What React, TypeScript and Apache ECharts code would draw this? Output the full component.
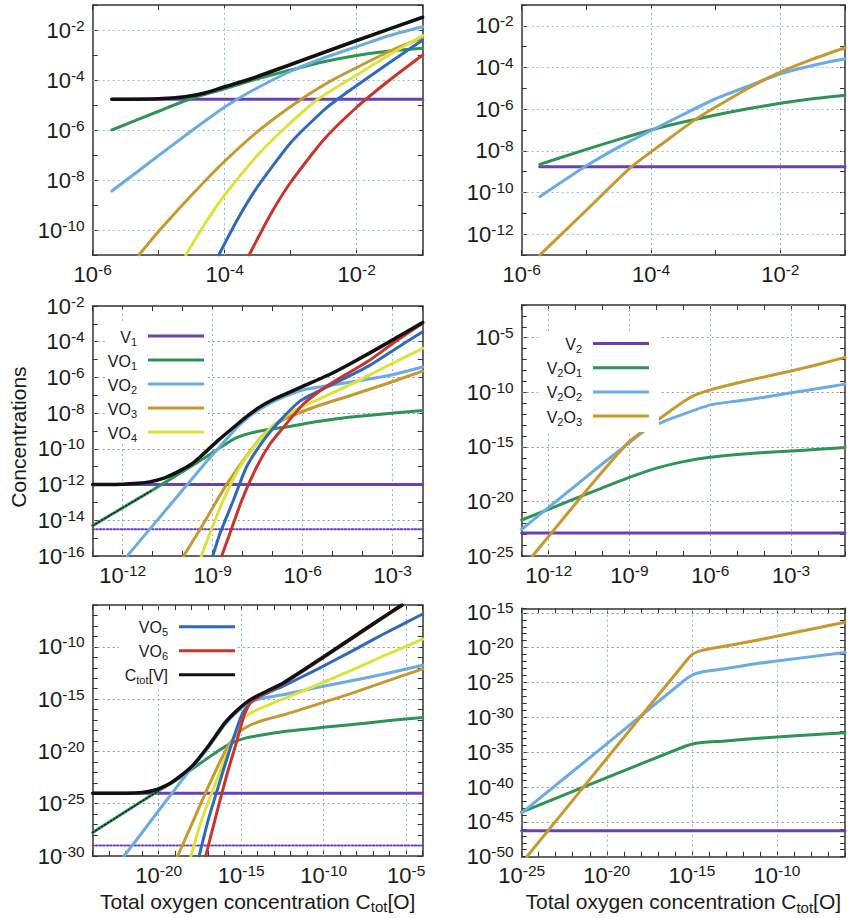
import React, { useEffect, useRef } from 'react';
import * as echarts from 'echarts';

type Pt = [number, number];

const FONT = "'Liberation Sans', Arial, Helvetica, sans-serif";
const INK = '#1a1a1a';
const FRAME = '#333333';
const GRID_V = '#86bcdc';
const GRID_H_LIGHT = '#8fc2dd';
const GRID_H_GRAY = '#8e99a4';

const COL = {
  v: '#6a40b5',
  o1: '#2e9455',
  o2: '#6aabe3',
  o3: '#c8982e',
  o4: '#dde23a',
  o5: '#2d69be',
  o6: '#c9342b',
  tot: '#111111',
};

// All values are log10 exponents: [log10 C_tot[O], log10 concentration]

// ---------- Panel 1 (top left): V1, VO1..VO6, Ctot[V] ----------
const p1V1: Pt[] = [[-5.71, -4.77], [-1, -4.77]];
const p1VO1: Pt[] = [[-5.71, -6.0], [-5.0, -5.25], [-4.54, -4.77], [-4.0, -4.35], [-3.6, -4.02], [-3.0, -3.6], [-2.5, -3.27], [-2.0, -3.02], [-1.5, -2.84], [-1.0, -2.73]];
const p1VO2: Pt[] = [[-5.71, -8.44], [-5.0, -7.02], [-4.5, -6.03], [-4.0, -5.08], [-3.6, -4.45], [-3.0, -3.65], [-2.5, -3.12], [-2.0, -2.67], [-1.5, -2.22], [-1.0, -1.87]];
const p1VO3: Pt[] = [[-5.3, -11], [-5.0, -10.05], [-4.5, -8.6], [-4.0, -7.25], [-3.45, -5.95], [-2.84, -4.77], [-2.4, -4.05], [-2.0, -3.5], [-1.5, -2.85], [-1.0, -2.3]];
const p1VO4: Pt[] = [[-4.59, -11], [-4.3, -9.75], [-4.0, -8.6], [-3.5, -7.0], [-3.1, -5.95], [-2.59, -4.77], [-2.0, -3.8], [-1.5, -2.98], [-1.0, -2.22]];
const p1VO5: Pt[] = [[-4.09, -11], [-3.8, -9.55], [-3.5, -8.26], [-3.0, -6.51], [-2.5, -5.21], [-2.29, -4.77], [-2.0, -4.22], [-1.5, -3.3], [-1.0, -2.4]];
const p1VO6: Pt[] = [[-3.63, -11], [-3.3, -9.35], [-3.0, -8.09], [-2.5, -6.39], [-2.0, -5.09], [-1.5, -4.0], [-1.0, -3.0]];
const p1Tot: Pt[] = [[-5.71, -4.77], [-5.0, -4.75], [-4.6, -4.67], [-4.3, -4.52], [-4.0, -4.27], [-3.6, -3.95], [-3.0, -3.38], [-2.0, -2.42], [-1.0, -1.49]];

// ---------- Panel 2 (top right): V2, V2O1..V2O3 ----------
const p2V2: Pt[] = [[-5.72, -8.76], [-1, -8.76]];
const p2V2O1: Pt[] = [[-5.72, -8.65], [-5.0, -7.93], [-4.5, -7.45], [-4.0, -7.0], [-3.5, -6.62], [-3.0, -6.28], [-2.5, -5.98], [-2.0, -5.72], [-1.5, -5.5], [-1.0, -5.33]];
const p2V2O2: Pt[] = [[-5.72, -10.2], [-5.0, -8.72], [-4.5, -7.82], [-4.0, -7.03], [-3.5, -6.25], [-3.0, -5.5], [-2.5, -4.9], [-2.0, -4.3], [-1.5, -3.9], [-1.0, -3.58]];
const p2V2O3: Pt[] = [[-5.72, -13.0], [-5.0, -10.85], [-4.3, -8.76], [-3.8, -7.6], [-3.34, -6.55], [-3.0, -5.9], [-2.48, -4.97], [-2.0, -4.22], [-1.5, -3.6], [-1.0, -3.05]];

// ---------- Panel 3 (middle left) ----------
const p3V1: Pt[] = [[-13, -12], [-2, -12]];
const p3V1Dot: Pt[] = [[-13, -14.5], [-2, -14.5]];
const p3VO1: Pt[] = [[-13, -14.3], [-12, -13.3], [-11, -12.3], [-10.2, -11.48], [-9.6, -10.85], [-9.2, -10.43], [-8.8, -9.98], [-8.3, -9.45], [-7.8, -9.15], [-7.2, -8.93], [-6.5, -8.76], [-5.5, -8.47], [-4.4, -8.22], [-3.3, -8.05], [-2, -7.85]];
const p3VO2: Pt[] = [[-11.85, -16], [-11, -14.3], [-10, -12.3], [-9.3, -10.9], [-8.8, -9.95], [-8.2, -8.82], [-7.8, -8.22], [-7.4, -7.75], [-7.0, -7.37], [-6.6, -7.07], [-6, -6.7], [-5, -6.42], [-4, -6.15], [-3, -5.85], [-2, -5.42]];
const p3VO3: Pt[] = [[-9.97, -16], [-9.44, -14.56], [-8.88, -12.95], [-8.54, -12.0], [-7.98, -10.64], [-7.3, -9.2], [-6.63, -8.35], [-5.51, -7.6], [-4.38, -7.0], [-3.26, -6.38], [-2, -5.65]];
const p3VO4: Pt[] = [[-9.38, -16], [-9.1, -14.75], [-8.65, -12.88], [-8.09, -11.0], [-7.53, -9.7], [-6.97, -8.67], [-6.29, -7.85], [-5.51, -7.25], [-4.38, -6.38], [-3.26, -5.42], [-2, -4.37]];
const p3VO5: Pt[] = [[-9.0, -16], [-8.76, -14.75], [-8.31, -12.88], [-7.87, -11.0], [-7.3, -9.51], [-6.74, -8.39], [-6.07, -7.3], [-5.17, -6.52], [-3.82, -5.38], [-3, -4.5], [-2, -3.44]];
const p3VO6: Pt[] = [[-8.7, -16], [-8.43, -14.75], [-8.03, -12.88], [-7.53, -11.0], [-7.08, -9.7], [-6.63, -8.77], [-5.96, -7.46], [-5.17, -6.45], [-3.82, -5.1], [-3, -4.1], [-2, -2.97]];
const p3Tot: Pt[] = [[-13, -12], [-12, -11.98], [-11.5, -11.93], [-11.1, -11.85], [-10.6, -11.62], [-10.2, -11.32], [-9.7, -10.85], [-9.3, -10.27], [-8.8, -9.5], [-8.2, -8.65], [-7.8, -8.1], [-7.4, -7.62], [-7.0, -7.25], [-6.6, -6.95], [-6, -6.5], [-5, -5.75], [-4.4, -5.22], [-3.3, -4.19], [-2, -2.92]];

// ---------- Panel 4 (middle right) ----------
const p4V2: Pt[] = [[-13, -22.9], [-1, -22.9]];
const p4V2O1: Pt[] = [[-13, -21.7], [-12, -20.72], [-11, -19.72], [-10, -18.75], [-9, -17.8], [-8, -16.95], [-7, -16.35], [-6, -15.95], [-5, -15.7], [-4, -15.52], [-3, -15.38], [-2, -15.22], [-1, -15.05]];
const p4V2O2: Pt[] = [[-13, -22.55], [-12, -20.55], [-11, -18.55], [-10, -16.55], [-9, -14.6], [-8.4, -13.45], [-7.8, -12.75], [-7, -12.0], [-6, -11.15], [-5, -10.8], [-4, -10.45], [-3, -10.05], [-2, -9.65], [-1, -9.25]];
const p4V2O3: Pt[] = [[-12.6, -25], [-12, -23.2], [-11, -20.2], [-10, -17.25], [-9, -14.5], [-8.35, -13.28], [-7.86, -12.38], [-7.3, -11.38], [-6.9, -10.7], [-6.5, -10.2], [-6, -9.78], [-5, -9.15], [-4.2, -8.7], [-3, -8.05], [-2, -7.45], [-1, -6.8]];

// ---------- Panel 5 (bottom left) ----------
const p5V1: Pt[] = [[-24, -24], [-4, -24]];
const p5V1Dot: Pt[] = [[-24, -29], [-4, -29]];
const p5VO1: Pt[] = [[-24, -27.75], [-22, -25.75], [-20, -23.75], [-19, -22.8], [-18.4, -22.15], [-17.5, -21.15], [-16.4, -19.95], [-15.6, -19.2], [-14.8, -18.75], [-14, -18.5], [-12.4, -18.1], [-10, -17.7], [-8.4, -17.45], [-6, -17.05], [-4, -16.75]];
const p5VO2: Pt[] = [[-22.1, -30], [-21, -27.75], [-20, -25.65], [-19, -23.6], [-18.4, -22.35], [-18, -21.6], [-17, -19.65], [-16, -17.45], [-15.2, -16.15], [-14.4, -15.25], [-13.5, -14.85], [-12.4, -14.55], [-10.4, -13.9], [-8.4, -13.27], [-6.4, -12.63], [-4, -11.76]];
const p5VO3: Pt[] = [[-18.85, -30], [-17.8, -26.25], [-16.8, -22.7], [-15.8, -19.5], [-15.2, -18.25], [-14.4, -17.45], [-13.4, -16.9], [-12.4, -16.5], [-10.4, -15.5], [-8.4, -14.5], [-6.4, -13.4], [-4, -12.1]];
const p5VO4: Pt[] = [[-18.05, -30], [-17.4, -26.57], [-16.4, -22.4], [-15.6, -19.2], [-14.9, -16.96], [-14.4, -16.3], [-13.4, -15.6], [-12.4, -14.95], [-10.4, -13.65], [-8.4, -12.3], [-6.4, -10.9], [-4, -9.26]];
const p5VO5: Pt[] = [[-17.55, -30], [-17, -26.57], [-16.2, -22.4], [-15.5, -18.88], [-14.9, -16.3], [-14.2, -15.03], [-13.4, -14.4], [-12.4, -13.7], [-10.4, -12.15], [-8.4, -10.5], [-6.4, -8.8], [-4, -6.86]];
const p5VO6: Pt[] = [[-17.15, -30], [-16.6, -26.6], [-15.9, -22.4], [-15.3, -19.2], [-14.8, -16.45], [-14.4, -15.25], [-13.4, -14.3], [-12.4, -13.48], [-10, -11.02], [-8, -8.92], [-6, -6.82], [-5.2, -6.0]];
const p5Tot: Pt[] = [[-24, -24], [-22, -23.99], [-21, -23.93], [-20.4, -23.76], [-19.8, -23.43], [-19.2, -22.95], [-18, -21.45], [-17, -19.5], [-16, -17.3], [-15.2, -16.0], [-14.4, -15.0], [-13.4, -14.2], [-12.4, -13.4], [-10, -10.95], [-8, -8.85], [-6, -6.75], [-5.26, -6.0]];

// ---------- Panel 6 (bottom right) ----------
const p6V2: Pt[] = [[-25, -46.27], [-6, -46.27]];
const p6V2O1: Pt[] = [[-25, -43.6], [-20, -38.65], [-15.4, -34.15], [-14.9, -33.78], [-14.35, -33.6], [-13, -33.38], [-11.1, -33.0], [-6, -32.2]];
const p6V2O2: Pt[] = [[-25, -43.7], [-20, -33.8], [-15.4, -24.6], [-14.9, -23.85], [-14.35, -23.45], [-13, -23.0], [-11.1, -22.25], [-6, -20.7]];
const p6V2O3: Pt[] = [[-24.7, -50], [-20, -35.9], [-15.3, -21.8], [-14.9, -20.85], [-14.35, -20.35], [-13, -19.75], [-11.1, -18.9], [-6, -16.35]];

// ---------- axis ranges / ticks (exponents) ----------
const p1XRange: Pt = [-6, -1];
const p1YRange: Pt = [-11, -1];
const p2XRange: Pt = [-6, -1];
const p2YRange: Pt = [-13, -1];
const p3XRange: Pt = [-13, -2];
const p3YRange: Pt = [-16, -2];
const p4XRange: Pt = [-13, -1];
const p4YRange: Pt = [-25, -2];
const p5XRange: Pt = [-24, -4];
const p5YRange: Pt = [-30, -6];
const p6XRange: Pt = [-25, -6];
const p6YRange: Pt = [-50, -14.35];

const p1XGrid = [-4, -2];
const p1YGrid = [-10, -8, -6, -4, -2];
const p2XGrid = [-4, -2];
const p2YGrid = [-12, -10, -8, -6, -4, -2];
const p3XGrid = [-12, -9, -6, -3];
const p3YGrid = [-14, -12, -10, -8, -6, -4];
const p4XGrid = [-12, -9, -6, -3];
const p4YGrid = [-20, -15, -10, -5];
const p5XGrid = [-20, -15, -10, -5];
const p5YGrid = [-25, -20, -15, -10];
const p6XGrid = [-20, -15, -10];
const p6YGrid = [-45, -40, -35, -30, -25, -20, -15];

// legend labels
const legendA = ['V{s|1}', 'VO{s|1}', 'VO{s|2}', 'VO{s|3}', 'VO{s|4}'];
const legendB = ['V{s|2}', 'V{s|2}O{s|1}', 'V{s|2}O{s|2}', 'V{s|2}O{s|3}'];
const legendC = ['VO{s|5}', 'VO{s|6}', 'C{s|tot}[V]'];

const X_TITLE = '{b|Total oxygen concentration C}{s|tot}{b|[O]}';
const Y_TITLE = 'Concentrations';

interface SeriesDef { name: string; data: Pt[]; color: string; width?: number; dash?: any; }
interface PanelDef {
  left: number; top: number; width: number; height: number;
  xr: Pt; yr: Pt; xStep: number; yStep: number;
  xGrid: number[]; yGrid: number[]; hColor: string; xName?: boolean;
  series: SeriesDef[];
}

const DOTS = [1.5, 2];

const PANELS: PanelDef[] = [
  {
    left: 92.7, top: 5, width: 330, height: 250, xr: p1XRange, yr: p1YRange, xStep: 2, yStep: 2,
    xGrid: p1XGrid, yGrid: p1YGrid, hColor: GRID_H_LIGHT,
    series: [
      { name: 'V1', data: p1V1, color: COL.v },
      { name: 'VO1', data: p1VO1, color: COL.o1 },
      { name: 'VO2', data: p1VO2, color: COL.o2 },
      { name: 'VO3', data: p1VO3, color: COL.o3 },
      { name: 'VO4', data: p1VO4, color: COL.o4 },
      { name: 'VO5', data: p1VO5, color: COL.o5 },
      { name: 'VO6', data: p1VO6, color: COL.o6 },
      { name: 'Ctot[V]', data: p1Tot, color: COL.tot, width: 3.5 },
    ],
  },
  {
    left: 521.7, top: 5, width: 330, height: 250, xr: p2XRange, yr: p2YRange, xStep: 2, yStep: 2,
    xGrid: p2XGrid, yGrid: p2YGrid, hColor: GRID_H_LIGHT,
    series: [
      { name: 'V2', data: p2V2, color: COL.v },
      { name: 'V2O1', data: p2V2O1, color: COL.o1 },
      { name: 'V2O2', data: p2V2O2, color: COL.o2 },
      { name: 'V2O3', data: p2V2O3, color: COL.o3 },
    ],
  },
  {
    left: 92.7, top: 306, width: 330, height: 250, xr: p3XRange, yr: p3YRange, xStep: 3, yStep: 2,
    xGrid: p3XGrid, yGrid: p3YGrid, hColor: GRID_H_GRAY,
    series: [
      { name: 'V1', data: p3V1, color: COL.v },
      { name: 'V1 (limit)', data: p3V1Dot, color: COL.v, width: 2, dash: DOTS },
      { name: 'VO1', data: p3VO1, color: COL.o1 },
      { name: 'VO1 (asymptote)', data: p3VO1.slice(0, 3), color: COL.tot, width: 1.2, dash: DOTS },
      { name: 'VO2', data: p3VO2, color: COL.o2 },
      { name: 'VO3', data: p3VO3, color: COL.o3 },
      { name: 'VO4', data: p3VO4, color: COL.o4 },
      { name: 'VO5', data: p3VO5, color: COL.o5 },
      { name: 'VO6', data: p3VO6, color: COL.o6 },
      { name: 'Ctot[V]', data: p3Tot, color: COL.tot, width: 3.5 },
    ],
  },
  {
    left: 521.7, top: 305, width: 330, height: 251, xr: p4XRange, yr: p4YRange, xStep: 3, yStep: 5,
    xGrid: p4XGrid, yGrid: p4YGrid, hColor: GRID_H_GRAY,
    series: [
      { name: 'V2', data: p4V2, color: COL.v },
      { name: 'V2O1', data: p4V2O1, color: COL.o1 },
      { name: 'V2O2', data: p4V2O2, color: COL.o2 },
      { name: 'V2O3', data: p4V2O3, color: COL.o3 },
    ],
  },
  {
    left: 92.7, top: 605, width: 330, height: 251, xr: p5XRange, yr: p5YRange, xStep: 5, yStep: 5,
    xGrid: p5XGrid, yGrid: p5YGrid, hColor: GRID_H_GRAY, xName: true,
    series: [
      { name: 'V1', data: p5V1, color: COL.v },
      { name: 'V1 (limit)', data: p5V1Dot, color: COL.v, width: 2, dash: DOTS },
      { name: 'VO1', data: p5VO1, color: COL.o1 },
      { name: 'VO1 (asymptote)', data: p5VO1.slice(0, 3), color: COL.tot, width: 1.2, dash: DOTS },
      { name: 'VO2', data: p5VO2, color: COL.o2 },
      { name: 'VO3', data: p5VO3, color: COL.o3 },
      { name: 'VO4', data: p5VO4, color: COL.o4 },
      { name: 'VO5', data: p5VO5, color: COL.o5 },
      { name: 'VO6', data: p5VO6, color: COL.o6 },
      { name: 'Ctot[V]', data: p5Tot, color: COL.tot, width: 3.5 },
    ],
  },
  {
    left: 521.7, top: 608.3, width: 330, height: 248.4, xr: p6XRange, yr: p6YRange, xStep: 5, yStep: 5,
    xGrid: p6XGrid, yGrid: p6YGrid, hColor: GRID_H_GRAY, xName: true,
    series: [
      { name: 'V2', data: p6V2, color: COL.v },
      { name: 'V2O1', data: p6V2O1, color: COL.o1 },
      { name: 'V2O2', data: p6V2O2, color: COL.o2 },
      { name: 'V2O3', data: p6V2O3, color: COL.o3 },
    ],
  },
];

const TICK_RICH = {
  base: { fontFamily: FONT, fontSize: 22, lineHeight: 26, color: INK },
  sup: { fontFamily: FONT, fontSize: 15.5, lineHeight: 14, verticalAlign: 'top', color: INK },
};
const TITLE_RICH = {
  b: { fontFamily: FONT, fontSize: 21, lineHeight: 26, color: INK },
  s: { fontFamily: FONT, fontSize: 15, lineHeight: 10, verticalAlign: 'bottom', color: INK },
};
const LEG_SUB = { fontFamily: FONT, fontSize: 11, lineHeight: 10, verticalAlign: 'bottom', fill: INK };

const fmt = (step: number) => (v: number) => {
  const r = Math.round(v);
  return Math.abs(v - r) < 1e-6 && r % step === 0 ? `{base|10}{sup|${r}}` : '';
};

function legendBlock(labels: string[], colors: string[], textRight: number, x1: number, x2: number, y0: number, dy: number) {
  const els: any[] = [];
  labels.forEach((lab, k) => {
    const y = y0 + k * dy;
    els.push({
      type: 'text', x: textRight, y: y + 1, z: 60, silent: true,
      style: {
        text: lab, fontFamily: FONT, fontSize: 16, lineHeight: 20, fill: INK,
        align: 'right', verticalAlign: 'middle', textAlign: 'right', textVerticalAlign: 'middle',
        rich: { s: LEG_SUB },
      },
    });
    els.push({
      type: 'line', z: 60, silent: true,
      shape: { x1, y1: y, x2, y2: y },
      style: { stroke: colors[k], lineWidth: 3 },
    });
  });
  return els;
}

function buildOption() {
  const grid: any[] = [];
  const xAxis: any[] = [];
  const yAxis: any[] = [];
  const series: any[] = [];

  PANELS.forEach((p, i) => {
    grid.push({ left: p.left, top: p.top, width: p.width, height: p.height, containLabel: false });
    const axisLine = { show: true, onZero: false, lineStyle: { color: FRAME, width: 1.5 } };
    const axisTick = { show: true, inside: true, length: 5, lineStyle: { color: FRAME, width: 1 } };
    const common = { type: 'value', gridIndex: i, interval: 1, axisLine, axisTick, splitLine: { show: false } };
    const labelCommon = {
      rich: TICK_RICH, fontSize: 22, fontFamily: FONT, lineHeight: 26,
      showMinLabel: true, showMaxLabel: true, color: INK,
    };
    const xMain: any = {
      ...common, position: 'bottom', min: p.xr[0], max: p.xr[1],
      axisLabel: { ...labelCommon, formatter: fmt(p.xStep), margin: 6 },
    };
    if (p.xName) {
      xMain.name = X_TITLE;
      xMain.nameLocation = 'middle';
      xMain.nameGap = 32;
      xMain.nameTextStyle = { rich: TITLE_RICH, color: INK, fontFamily: FONT, fontSize: 21 };
    }
    xAxis.push(xMain);
    xAxis.push({ ...common, position: 'top', min: p.xr[0], max: p.xr[1], axisLabel: { show: false } });
    yAxis.push({
      ...common, position: 'left', min: p.yr[0], max: p.yr[1],
      axisLabel: { ...labelCommon, formatter: fmt(p.yStep), margin: 8 },
    });
    yAxis.push({ ...common, position: 'right', min: p.yr[0], max: p.yr[1], axisLabel: { show: false } });

    const markData: any[] = [
      ...p.xGrid.map((v) => ({ xAxis: v, lineStyle: { color: GRID_V, type: [2, 3], width: 1 } })),
      ...p.yGrid.map((v) => ({ yAxis: v, lineStyle: { color: p.hColor, type: [2, 3], width: 1 } })),
    ];

    p.series.forEach((s, j) => {
      const ser: any = {
        type: 'line', name: s.name, xAxisIndex: 2 * i, yAxisIndex: 2 * i,
        data: s.data, showSymbol: false, symbol: 'none',
        smooth: 0.2, clip: true, silent: true,
        emphasis: { disabled: true },
        lineStyle: { color: s.color, width: s.width ?? 3, type: s.dash ?? 'solid', cap: 'round', join: 'round' },
        itemStyle: { color: s.color },
      };
      if (j === 0) {
        ser.markLine = {
          silent: true, symbol: 'none', z: 1, animation: false,
          label: { show: false },
          emphasis: { disabled: true },
          data: markData,
        };
      }
      series.push(ser);
    });
  });

  const elements: any[] = [
    // opaque key boxes
    { type: 'rect', z: 50, silent: true, shape: { x: 106, y: 324, width: 102, height: 120 }, style: { fill: '#ffffff' } },
    { type: 'rect', z: 50, silent: true, shape: { x: 538, y: 331, width: 121, height: 101 }, style: { fill: '#ffffff' } },
    { type: 'rect', z: 50, silent: true, shape: { x: 119, y: 612, width: 118, height: 76 }, style: { fill: '#ffffff' } },
    ...legendBlock(legendA, [COL.v, COL.o1, COL.o2, COL.o3, COL.o4], 137, 148, 204, 336, 24),
    ...legendBlock(legendB, [COL.v, COL.o1, COL.o2, COL.o3], 582, 593, 649, 343.5, 24.2),
    ...legendBlock(legendC, [COL.o5, COL.o6, COL.tot], 168, 179, 235, 626.7, 24),
    {
      type: 'text', x: 18, y: 437, rotation: Math.PI / 2, z: 60, silent: true,
      style: {
        text: Y_TITLE, fontFamily: FONT, fontSize: 21, fill: INK,
        align: 'center', verticalAlign: 'middle', textAlign: 'center', textVerticalAlign: 'middle',
      },
    },
  ];

  return {
    animation: false,
    backgroundColor: '#ffffff',
    textStyle: { fontFamily: FONT },
    grid,
    xAxis,
    yAxis,
    series,
    graphic: { elements },
  };
}

export default function App() {
  const ref = useRef<HTMLDivElement>(null);
  useEffect(() => {
    if (!ref.current) return;
    const chart = echarts.init(ref.current, undefined, { renderer: 'svg' });
    chart.setOption(buildOption() as any);
    return () => {
      chart.dispose();
    };
  }, []);
  return (
    <div
      ref={ref}
      style={{ position: 'absolute', left: 0, top: 0, width: 848, height: 918, background: '#fff' }}
    />
  );
}
